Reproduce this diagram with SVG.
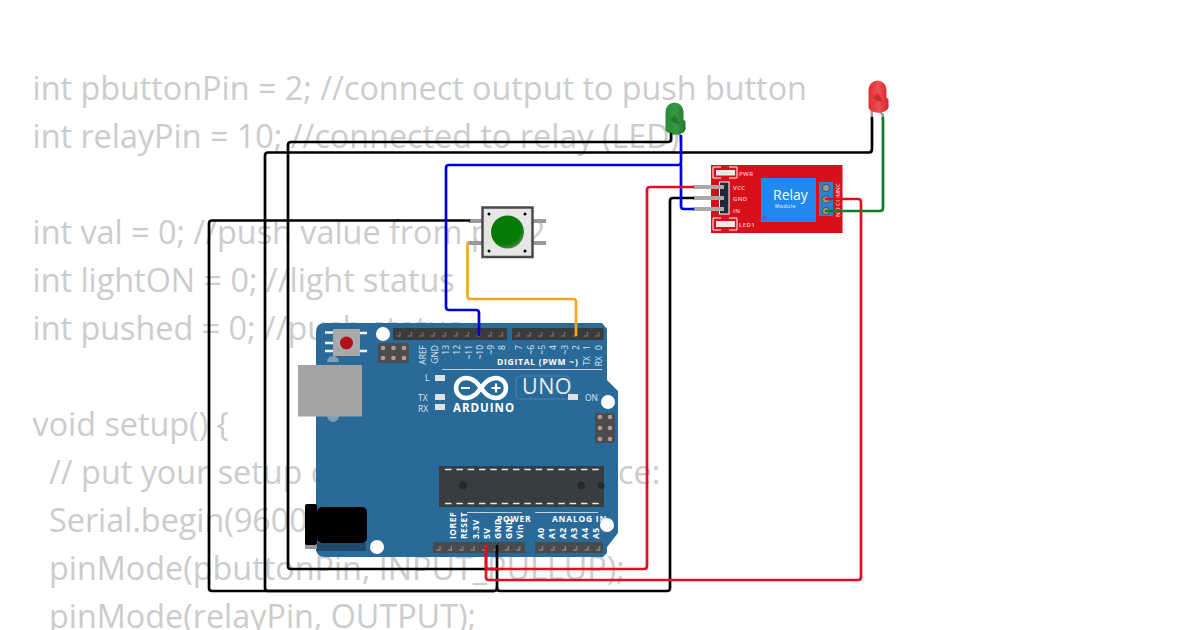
<svg xmlns="http://www.w3.org/2000/svg" width="1200" height="630" viewBox="0 0 1200 630">
<defs>
<pattern id="pins" patternUnits="userSpaceOnUse" width="11.4" height="12" x="393" y="328">
<rect width="11.4" height="12" fill="#3b3b3b"/>
<path d="M3.5 8H7V4" fill="none" stroke="#6e6e6e" stroke-width="1.3"/>
</pattern>
<pattern id="pins2" patternUnits="userSpaceOnUse" width="11.4" height="12" x="512" y="328">
<rect width="11.4" height="12" fill="#3b3b3b"/>
<path d="M3.500 8H7V4" fill="none" stroke="#6e6e6e" stroke-width="1.3"/>
</pattern>
<pattern id="pinsb" patternUnits="userSpaceOnUse" width="11.4" height="11" x="433" y="542">
<rect width="11.4" height="11" fill="#4a4a4a"/>
<path d="M3.5 8H7V4" fill="none" stroke="#858585" stroke-width="1.3"/>
</pattern>
<radialGradient id="cap" cx=".42" cy=".38" r=".65"><stop offset=".75" stop-color="#067a06"/><stop offset="1" stop-color="#4f8a4f"/></radialGradient>
<linearGradient id="gl" x1="0" x2="1"><stop offset="0" stop-color="#2a8a38"/><stop offset=".5" stop-color="#359a44"/><stop offset="1" stop-color="#22782c"/></linearGradient>
<linearGradient id="rl" x1="0" x2="1"><stop offset="0" stop-color="#e02e32"/><stop offset=".5" stop-color="#ee4f52"/><stop offset="1" stop-color="#d62226"/></linearGradient>
</defs>
<style>
.code{font:32.35px "Open Sans","Noto Sans",sans-serif;fill:#ccc;white-space:pre}
.w{fill:none;stroke-width:2.7;stroke-linejoin:round;stroke-linecap:round}
.b{font-family:"Open Sans","Noto Sans",sans-serif;font-weight:700;fill:#fff}
.t{font:8.5px "Open Sans","Noto Sans",sans-serif;fill:#dbe6ee}
.p{font:700 8.5px "Open Sans","Noto Sans",sans-serif;fill:#fff;letter-spacing:.5px}
.l{font:600 6px "Open Sans","Noto Sans",sans-serif;fill:#f6c8c8;letter-spacing:.4px}
.hole{fill:#fff}
.led{fill:#e0e0e0}
.dot{fill:#b59a9a}
.dash{fill:none;stroke:#e8e8e8;stroke-width:1.6;stroke-dasharray:6.5 4.83}
.gp{fill:#999}
</style>
<rect width="1200" height="630" fill="#fff"/>
<g id="code">
<text class="code" x="32.500" y="100">int pbuttonPin = 2; //connect output to push button</text>
<text class="code" x="32.500" y="148">int relayPin = 10; //connected to relay (LED)</text>
<text class="code" x="32.500" y="244">int val = 0; //push value from pin 2</text>
<text class="code" x="32.500" y="292">int lightON = 0; //light status</text>
<text class="code" x="32.500" y="340">int pushed = 0; //push status</text>
<text class="code" x="32.500" y="436">void setup() {</text>
<text class="code" x="49" y="484">// put your setup code here, to run once:</text>
<text class="code" x="49" y="532">Serial.begin(9600);</text>
<text class="code" x="49" y="580">pinMode(pbuttonPin, INPUT_PULLUP);</text>
<text class="code" x="49" y="628">pinMode(relayPin, OUTPUT);</text>
</g>
<g id="arduino">
<path d="M325 323H602L607 329V380L618 391V533L607 547V553L603 557H325Q316 557 316 548V332Q316 323 325 323Z" fill="#2a6a99"/>
<path d="M327 362a6 6 0 0 1 12 0zM327 416h12a6 6 0 0 1-12 0z" fill="#7f9fb5"/>
<rect x="298" y="365" width="64" height="51.500" fill="#a4a4a4"/>
<path d="M325 332.500h8M325 343h8M325 351h8M360 333h7M360 351h7" stroke="#f4f4f4" stroke-width="2.500"/>
<rect x="333" y="329" width="27" height="27" fill="#a9a9a9"/>
<circle cx="346.500" cy="343" r="6.500" fill="#b3101c"/>
<circle class="hole" cx="383" cy="334" r="7"/>
<circle class="hole" cx="608" cy="402" r="7"/>
<circle class="hole" cx="607" cy="525" r="7"/>
<circle class="hole" cx="377" cy="547" r="7"/>
<rect x="393" y="328" width="114" height="12" fill="url(#pins)"/>
<rect x="512" y="328" width="91.500" height="12" fill="url(#pins2)"/>
<rect x="433" y="542" width="92" height="11" fill="url(#pinsb)"/>
<rect x="535" y="542" width="68" height="11" fill="url(#pinsb)"/>
<rect x="378" y="343" width="31" height="20" rx="2" fill="#4c4c4c"/>
<rect x="595" y="413" width="20" height="30" rx="2" fill="#4c4c4c"/>
<g class="dot">
<circle cx="383" cy="348" r="2.300"/><circle cx="393.500" cy="348" r="2.300"/><circle cx="404" cy="348" r="2.300"/><circle cx="383" cy="358" r="2.300"/><circle cx="393.500" cy="358" r="2.300"/><circle cx="404" cy="358" r="2.300"/>
<circle cx="600" cy="417" r="2.300"/><circle cx="610" cy="417" r="2.300"/><circle cx="600" cy="428" r="2.300"/><circle cx="610" cy="428" r="2.300"/><circle cx="600" cy="439" r="2.300"/><circle cx="610" cy="439" r="2.300"/>
</g>
<rect x="316" y="543" width="50" height="8" fill="#1d4a6a"/>
<rect x="305" y="540" width="12" height="9" fill="#9a9a9a"/>
<rect x="305" y="504" width="12" height="41" rx="2" fill="#000"/>
<rect x="317" y="507" width="50" height="36" rx="5" fill="#000"/>
<rect x="439" y="466" width="165" height="41" fill="#3a3d40"/>
<path class="dash" d="M445 469.500H600M445 503.500H600"/>
<circle cx="463" cy="485.500" r="4" fill="#26292c"/>
<circle cx="581" cy="485.500" r="4" fill="#26292c"/>
<circle cx="601" cy="485.500" r="3.500" fill="#26292c"/>
<path d="M442 369.500H602M467 512.500H522M535 512.500H598" stroke="#cfdde8" stroke-width=".9" fill="none"/>
<text class="b" x="497" y="365" font-size="8.500" letter-spacing=".75">DIGITAL (PWM ~)</text>
<text class="b" x="453" y="412" font-size="11.500" letter-spacing="1">ARDUINO</text>
<path d="M466 378a10 10 0 1 0 0 20c8 0 12-6 15-10c3-4 7-10 15-10a10 10 0 1 1 0 20c-8 0-12-6-15-10c-3-4-7-10-15-10z" fill="none" stroke="#fff" stroke-width="4.500"/>
<path d="M461 388h9M491.500 388h9M496 383.500v9" stroke="#fff" stroke-width="2.200" fill="none"/>
<rect x="516" y="376" width="54" height="23" rx="4" fill="none" stroke="#4a83ab"/>
<text x="522" y="393.500" font-family="Open Sans,Noto Sans,sans-serif" font-size="21.500" letter-spacing=".5" fill="#e3edf3">UNO</text>
<text class="b" x="497" y="522" font-size="8.500" letter-spacing=".75">POWER</text>
<text class="b" x="552" y="522" font-size="8.500" letter-spacing=".75">ANALOG IN</text>
<text class="t" x="425" y="381">L</text><text class="t" x="418" y="401">TX</text><text class="t" x="418" y="412">RX</text><text class="t" x="585" y="401">ON</text>
<rect class="led" x="435" y="375" width="10" height="6"/><rect class="led" x="435" y="394" width="10" height="6"/><rect class="led" x="435" y="404" width="10" height="6"/><rect class="led" x="568" y="394" width="10" height="6"/>
<g class="t" text-anchor="end">
<text transform="translate(426,345) rotate(-90)">AREF</text><text transform="translate(438,345) rotate(-90)">GND</text>
<text transform="translate(449,345) rotate(-90)">13</text><text transform="translate(460,345) rotate(-90)">12</text><text transform="translate(472,345) rotate(-90)">~11</text><text transform="translate(483,345) rotate(-90)">~10</text><text transform="translate(494,345) rotate(-90)">~9</text><text transform="translate(505,345) rotate(-90)">8</text>
<text transform="translate(522,345) rotate(-90)">7</text><text transform="translate(534,345) rotate(-90)">~6</text><text transform="translate(545,345) rotate(-90)">~5</text><text transform="translate(556,345) rotate(-90)">4</text><text transform="translate(568,345) rotate(-90)">~3</text><text transform="translate(579,345) rotate(-90)">2</text>
<text transform="translate(590,345) rotate(-90)">1</text><text transform="translate(602,345) rotate(-90)">0</text>
<text transform="translate(590,356) rotate(-90)">TX</text><text transform="translate(602,356) rotate(-90)">RX</text>
</g>
<g class="p">
<text transform="translate(456,539) rotate(-90)">IOREF</text><text transform="translate(467,539) rotate(-90)">RESET</text><text transform="translate(479,539) rotate(-90)">3.3V</text><text transform="translate(490,539) rotate(-90)">5V</text><text transform="translate(501,539) rotate(-90)">GND</text><text transform="translate(512,539) rotate(-90)">GND</text><text transform="translate(523,539) rotate(-90)">Vin</text>
<text transform="translate(544,539) rotate(-90)">A0</text><text transform="translate(555,539) rotate(-90)">A1</text><text transform="translate(566,539) rotate(-90)">A2</text><text transform="translate(577,539) rotate(-90)">A3</text><text transform="translate(588,539) rotate(-90)">A4</text><text transform="translate(599,539) rotate(-90)">A5</text>
</g>
</g>
<g id="relay">
<rect x="711" y="165" width="131.500" height="68" fill="#d8101c"/>
<rect x="761" y="178" width="55" height="44" fill="#2288ee"/>
<circle cx="765" cy="218" r="1.800" fill="none" stroke="#5a50c0"/>
<text x="773" y="200" font-family="Open Sans,Noto Sans,sans-serif" font-size="14" fill="#fff">Relay</text>
<text x="775" y="207.500" font-family="Open Sans,Noto Sans,sans-serif" font-size="5" letter-spacing=".5" fill="#fff">Module</text>
<rect x="819" y="182" width="14" height="34" fill="#2f7fd2"/>
<circle cx="826" cy="188" r="3.600" fill="#999" stroke="#444" stroke-width=".8"/><circle cx="826" cy="199.500" r="3.600" fill="#999" stroke="#444" stroke-width=".8"/><circle cx="826" cy="211" r="3.600" fill="#999" stroke="#444" stroke-width=".8"/>
<path d="M721 167h-8v11h8M729 167h8v11h-8M721 218h-8v12h8M729 218h8v12h-8" fill="none" stroke="#fff" stroke-width="1"/>
<rect x="716" y="170" width="19" height="5.500" fill="#f2e8e8"/><rect x="716" y="221" width="19" height="6" fill="#f2e8e8"/>
<rect x="719.500" y="182" width="9.500" height="32" fill="#232838" stroke="#fff" stroke-width="1"/>
<rect x="693" y="185" width="31" height="4" fill="#aaa"/><rect x="693" y="196" width="31" height="4" fill="#aaa"/><rect x="693" y="207" width="31" height="4" fill="#aaa"/>
<text class="l" x="739" y="175.500">PWR</text><text class="l" x="733" y="189.500">VCC</text><text class="l" x="733" y="201">GND</text><text class="l" x="733" y="212.500">IN</text><text class="l" x="739" y="226.500">LED1</text>
<text class="l" transform="translate(839.500,192) rotate(-90)">NC</text><text class="l" transform="translate(839.500,206) rotate(-90)">COM</text><text class="l" transform="translate(839.500,217) rotate(-90)">NO</text>
</g>
<g id="button">
<rect class="gp" x="469" y="219" width="13" height="4"/><rect class="gp" x="468" y="241" width="14" height="4"/><rect class="gp" x="533" y="219" width="13" height="4"/><rect class="gp" x="533" y="241" width="13" height="4"/>
<rect x="482.500" y="207.500" width="50" height="49.500" fill="#e6e6e6" stroke="#4a4a4a" stroke-width="2.500"/>
<circle cx="507.500" cy="232" r="16.500" fill="url(#cap)"/>
<circle cx="489" cy="214" r="1.500"/><circle cx="525" cy="214" r="1.500"/><circle cx="489" cy="251" r="1.500"/><circle cx="525" cy="251" r="1.500"/>
</g>
<g id="led-green">
<path class="gp" d="M670 130h2.500v12h-2.500zM677 130l5 6v6h-2.500v-5l-4-5z"/>
<path d="M665.500 112a9 9.500 0 0 1 18 0V119.500l2 2v5.500a10 6 0 0 1-20 3z" fill="url(#gl)"/>
<path d="M670 120l5-5 3 5 2 4-6-1z" fill="#1f6b2a" opacity=".7"/>
</g>
<g id="led-red">
<path class="gp" d="M870.500 109h2.500v11h-2.500zM879 109l5 5v6h-2.500v-5l-4-4z"/>
<path d="M868.500 90a9 9.500 0 0 1 18 0V97.500l2 2v5.500a10 6 0 0 1-20 3z" fill="url(#rl)"/>
<path d="M873 98l5-5 3 5 2 4-6-1z" fill="#a82024" opacity=".6"/>
</g>
<g id="connectors">
<path class="w" stroke="#000" d="M671 134V139Q671 142 668 142H291Q288 142 288 145V566Q288 569 291 569H497"/>
<path class="w" stroke="#000" d="M872 118V149Q872 152.500 869 152.500H268Q265 152.500 265 155.500V588Q265 591 268 591H494"/>
<path class="w" stroke="#000" d="M469 220.500H212Q209 220.500 209 223.500V588Q209 591 212 591H494Q497 591 497 588V546"/>
<path class="w" stroke="#000" d="M693 198H673Q670 198 670 201V588Q670 591 667 591H500Q497 591 497 588"/>
<path class="w" stroke="#0000dc" d="M681 136V162Q681 165 678 165H449Q446 165 446 168V307Q446 310 449 310H476Q479 310 479 313V335"/>
<path class="w" stroke="#0000dc" d="M681 165V206Q681 209 684 209H693"/>
<path class="w" stroke="#f5a623" d="M467.500 243V296Q467.500 299 470.500 299H573Q576 299 576 302V335"/>
<path class="w" stroke="#e01020" d="M486 546V577Q486 580 489 580H858Q861 580 861 577V202Q861 199 858 199H826"/>
<path class="w" stroke="#e01020" d="M486 546V566Q486 569 489 569H644Q647 569 647 566V190Q647 187 650 187H693"/>
<path class="w" stroke="#0a8020" d="M883 118V208Q883 211 880 211H826"/>
</g>
</svg>
